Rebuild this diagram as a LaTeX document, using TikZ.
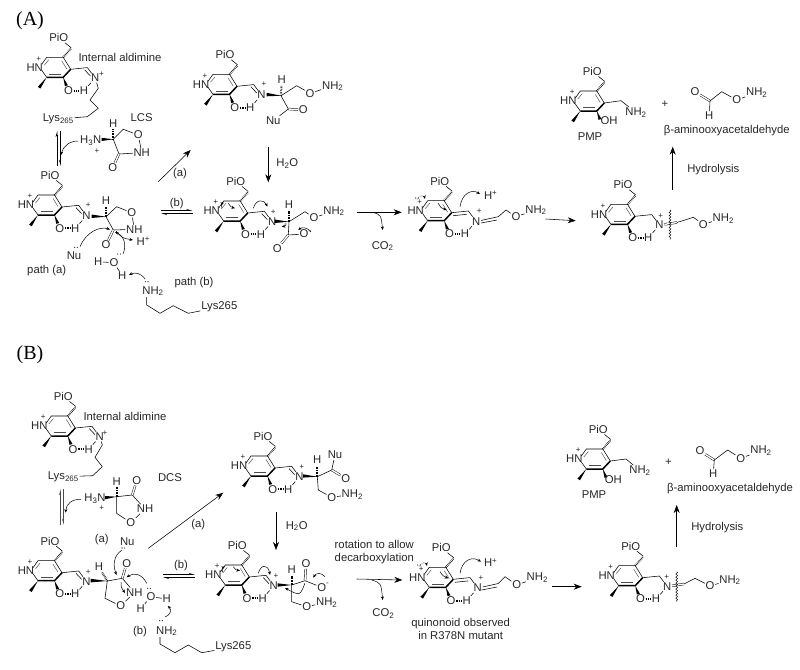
\documentclass[tikz,border=0pt]{standalone}
\usepackage{fontspec}
\setmainfont{Liberation Sans}
\newfontfamily\serifA{Liberation Serif}
\usetikzlibrary{arrows.meta,decorations.pathmorphing}
\tikzset{
  atom/.style={font=\fontsize{11.3}{12}\selectfont,inner sep=0.6pt,text=black!85},
  lbl/.style={font=\fontsize{11.3}{13}\selectfont,inner sep=0pt,text=black!85,align=center},
  chg/.style={font=\fontsize{8}{8}\selectfont,inner sep=0pt,text=black!85},
  hdr/.style={font=\serifA\fontsize{20}{20}\selectfont,inner sep=0pt},
  dbond/.style={double,double distance=1.4pt,line width=0.45pt},
  hashb/.style={line width=2pt,dash pattern=on 0.55pt off 1pt},
  hbond/.style={line width=2pt,dash pattern=on 1.3pt off 1pt},
  rxn/.style={-{Stealth[length=8pt,width=6pt]},line width=0.55pt},
  curly/.style={-{Stealth[length=3.6pt,width=3pt]},line width=0.5pt},
  harpu/.style={-{Stealth[harpoon,length=5pt,width=3pt]},line width=0.7pt},
  harpd/.style={-{Stealth[harpoon,swap,length=5pt,width=3pt]},line width=0.7pt},
  cut/.style={decorate,decoration={snake,amplitude=0.9pt,segment length=3pt},line width=0.45pt},
}
% ring with PiO, methyl and the phenol oxygen bond
\newcommand{\pyrcore}[3]{
  \begin{scope}[shift={(#1,#2)}]
    \node[atom] (#3hn) at (-21,0) {HN};
    \node[chg] at (-17,-8.5) {+};
    \node[atom] (#3pio) at (3,-29.6) {PiO};
    \draw (-14,-3) -- (-9,-10) -- (7.5,-10) -- (15,2);
    \draw (-14,3) -- (-9,10);
    \draw[line width=1.5pt,line join=round] (-9,10) -- (7.5,10) -- (15,2);
    \draw[line width=0.45pt,black!70] (-11.5,-2) -- (-7,-7.5);
    \draw[line width=0.45pt,black!70] (6,-6.5) -- (11,1.5);
    \draw[line width=0.45pt,black!70] (-6.5,6.5) -- (5.5,6.5);
    \fill (-9,10) -- (-17.9,19.5) -- (-15.3,21.3) -- cycle;
    \fill (7.5,10) -- (9.2,18.8) -- (12.2,18) -- cycle;
    \draw[hashb] (7.5,-10) -- (15.5,-19);
    \draw (15.5,-19.5) -- (#3pio);
  \end{scope}
}
% same, with the H bond and the C-N stub; #4 is an extra bond line
\newcommand{\pyrald}[4]{
  \pyrcore{#1}{#2}{#3}
  \begin{scope}[shift={(#1,#2)}]
    \node[atom] (#3o) at (12.7,23.4) {O};
    \node[atom] (#3h) at (28.3,23.4) {H};
    \node[atom] (#3n) at (39.5,10.8) {N};
    \draw[hbond] (#3o) -- (#3h);
    \draw (15,2) -- (31.7,0.3) -- (#3n);
    \draw (#3n) -- (#3h);
    #4
  \end{scope}
}
\newcommand{\imdb}{\draw (29,2.6) -- (34.6,8.6);}
\newcommand{\exdb}{\draw (16.5,5) -- (30,3.6);}
\newcommand{\lonep}[2]{\fill (#1-1.3,#2) circle (0.55pt) (#1+1.3,#2) circle (0.55pt);}
\begin{document}
\begin{tikzpicture}[x=1pt,y=-1pt,line width=0.55pt]
  \useasboundingbox (0,0) rectangle (800,669);
  \node[hdr] (hA) at (30,20.7) {(A)};
  \node[hdr] (hB) at (30,355) {(B)};

  % ---- (A) internal aldimine
  \pyrald{55.7}{67.3}{ai}{\imdb}
  \node[chg] at (101.5,74.5) {+};
  \node[lbl] (aitxt) at (120,57.3) {Internal aldimine};
  \node[atom] (ail) at (58.3,119) {Lys\textsubscript{265}};
  \draw (ain) -- (98.3,88.3) -- (90,100) -- (98.3,108.3) -- (87.3,116.7) -- (ail);

  % LCS
  \node[lbl] (lcs) at (141.7,117.3) {LCS};
  \node[atom] (ln) at (90.7,141) {H\textsubscript{3}N};
  \node[chg] at (97,151) {+};
  \node[atom] (lh) at (113.3,124) {H};
  \node[atom] (lo) at (138.3,135) {O};
  \node[atom] (lnh) at (141.7,152.7) {NH};
  \node[atom] (lco) at (112.7,167.5) {O};
  \fill (101.7,137.8) -- (113.3,139.3) -- (101.7,141) -- cycle;
  \draw[hashb] (113.3,139.3) -- (113.3,129);
  \draw (113.3,139.3) -- (123.3,129.3) -- (lo);
  \draw (lo) -- (lnh);
  \draw (113.3,139.3) -- (119,154) -- (lnh);
  \draw[dbond] (119,154) -- (lco);

  \coordinate (ea1) at (57,166);
  \coordinate (ea2) at (57,131);
  \coordinate (ea3) at (60.5,131);
  \coordinate (ea4) at (60.5,166);
  \draw[harpu] (ea1) -- (ea2);
  \draw[harpd] (ea3) -- (ea4);
  \draw[curly] (78,141) .. controls (70,141) and (63,146) .. (61,155);

  % ---- (A) attack on the ring
  \pyrald{47}{205}{ax}{\imdb}
  \node[chg] at (88.3,205) {+};
  \node[atom] (axhh) at (106,200.7) {H};
  \node[atom] (axo) at (131.7,212.7) {O};
  \node[atom] (axnh) at (134.3,229.3) {NH};
  \node[atom] (axco) at (106,245) {O};
  \fill (91.5,214.5) -- (106,216.7) -- (91.5,218) -- cycle;
  \draw[hashb] (106,216.7) -- (106,206);
  \draw (106,216.7) -- (116.7,206.7) -- (axo);
  \draw (axo) -- (axnh);
  \draw (106,216.7) -- (113.3,230) -- (axnh);
  \draw[dbond] (113.3,230) -- (axco);
  \node[atom] (axhp) at (143.3,241) {H\textsuperscript{+}};
  \node[atom] (axnu) at (74,256) {Nu};
  \lonep{76}{247.3}
  \draw[curly] (80,246.7) .. controls (86,232) and (100,226) .. (110,229.5);
  \draw[curly] (116,231) .. controls (122,238) .. (133,240);
  \draw[curly] (123,254) .. controls (127,245) and (124,236) .. (115,232);
  \node[atom] (wh1) at (98.3,261.7) {H};
  \node[atom] (wo) at (114,262.7) {O};
  \node[atom] (wh2) at (122.3,276) {H};
  \draw (wh1) -- (wo);
  \draw (wo) -- (wh2);
  \lonep{119}{254}
  \node[lbl] (pa) at (46.7,270.7) {path (a)};
  \node[lbl] (pb) at (194,282.3) {path (b)};
  \node[atom] (lysn) at (153,291) {NH\textsubscript{2}};
  \lonep{146.7}{281.7}
  \draw[curly] (145,279) .. controls (141,273) and (135,272) .. (129,275);
  \node[atom] (lysa) at (219.3,307) {Lys265};
  \draw (146.7,297) -- (146.7,305) -- (160,313.3) -- (173.3,305.7) -- (188.3,313.3) -- (lysa);

  \coordinate (ar1) at (158.3,181.7);
  \coordinate (ar2) at (190.7,150);
  \draw[rxn] (ar1) -- (ar2);
  \node[lbl] (la) at (180,174) {(a)};
  \node[lbl] (lb) at (176.7,203.3) {(b)};
  \coordinate (eb1) at (161,210.5);
  \coordinate (eb2) at (192.5,210.5);
  \coordinate (eb3) at (192.5,213.5);
  \coordinate (eb4) at (161,213.5);
  \draw[harpu] (eb1) -- (eb2);
  \draw[harpu] (eb3) -- (eb4);

  % ---- (A) Nu adduct
  \pyrald{222}{84.3}{an}{\imdb}
  \node[chg] at (264,84.3) {+};
  \node[atom] (anhh) at (281.7,80) {H};
  \node[atom] (ano) at (310,93.3) {O};
  \node[atom] (ann) at (332.7,86) {NH\textsubscript{2}};
  \node[atom] (anco) at (303.3,110) {O};
  \node[atom] (annu) at (273.3,120.7) {Nu};
  \fill (266.5,92.8) -- (281,95.7) -- (266.5,96.3) -- cycle;
  \draw[hashb] (281,95.7) -- (281.5,85);
  \draw (281,95.7) -- (296.7,85.7) -- (ano);
  \draw (ano) -- (ann);
  \draw (281,95.7) -- (288.3,109);
  \draw[dbond] (288.3,109) -- (anco);
  \draw (288.3,109) -- (annu);
  \coordinate (ah1) at (268.3,146.7);
  \coordinate (ah2) at (268.3,182.3);
  \draw[rxn] (ah1) -- (ah2);
  \node[atom] (ah2o) at (287.3,163.3) {H\textsubscript{2}O};

  % ---- (A) carboxylate
  \pyrald{232.7}{211}{ac}{\imdb}
  \node[chg] at (273.3,211.7) {+};
  \node[atom] (achh) at (289,205) {H};
  \node[atom] (aco) at (314,217.7) {O};
  \node[atom] (acn) at (334,211) {NH\textsubscript{2}};
  \node[atom] (aco1) at (277.3,248.3) {O};
  \node[atom] (aco2) at (304,234) {O};
  \node[chg] at (310,232) {-};
  \fill (274.5,219.5) -- (289,221.7) -- (274.5,223) -- cycle;
  \draw[hashb] (289,221.7) -- (289,210.5);
  \draw (289,221.7) -- (305,211.7) -- (aco);
  \draw (aco) -- (acn);
  \draw (289,221.7) -- (288.3,235) -- (aco2);
  \draw[dbond] (288.3,235) -- (aco1);
  \draw[curly] (222,208) .. controls (221,204) .. (224,202.5);
  \draw[curly] (228.3,203.3) .. controls (231,207) .. (235,208.3);
  \draw[curly] (253.3,208.3) .. controls (256,199) and (264,199) .. (267.3,206.7);
  \draw[curly] (311,232) .. controls (307,227) and (302,227) .. (298.3,230);
  \draw[curly] (286,223) .. controls (286,226) .. (281.7,226.7);
  \coordinate (ad1) at (356.7,212.3);
  \coordinate (ad2) at (401.7,212.3);
  \draw[rxn] (ad1) -- (ad2);
  \node[atom] (aco2g) at (382.7,246) {CO\textsubscript{2}};
  \coordinate (ag1) at (373,212.3);
  \coordinate (ag2) at (382.7,230);
  \draw[curly] (ag1) .. controls (381,215) .. (ag2);

  % ---- (A) quinonoid
  \pyrald{436.7}{210.7}{aq}{\exdb}
  \node[chg] at (479.3,210.7) {+};
  \node[atom] (aqhp) at (490.7,195.7) {H\textsuperscript{+}};
  \node[atom] (aqo) at (516,216.7) {O};
  \node[atom] (aqnn) at (536,210) {NH\textsubscript{2}};
  \draw (aqn) -- (498.3,216.7) -- (506,210) -- (aqo);
  \draw (481,223) -- (497,220);
  \draw (aqo) -- (aqnn);
  \draw[curly] (460,206.7) .. controls (462,193) and (472,189) .. (480,194);
  \draw[curly,densely dotted] (417,200) .. controls (419,195) and (424,195) .. (425,199);
  \lonep{417}{198}
  \draw[curly] (438.3,203.3) .. controls (441,208) .. (446.7,210);
  \coordinate (aq1) at (545.7,219);
  \coordinate (aq2) at (575.7,220.7);
  \draw[rxn] (aq1) -- (aq2);

  % ---- (A) ketimine
  \pyrald{620}{214.3}{ak}{}
  \node[chg] at (660.7,215.7) {+};
  \node[atom] (ako) at (703.3,224.3) {O};
  \node[atom] (aknn) at (723.3,218.3) {NH\textsubscript{2}};
  \draw[dbond] (akn) -- (677,222.5);
  \draw (677,222.5) -- (693.3,217.3) -- (ako);
  \draw (ako) -- (aknn);
  \coordinate (ac1) at (670,210);
  \coordinate (ac2) at (670,240);
  \draw[cut] (ac1) -- (ac2);
  \coordinate (ay1) at (672.7,190);
  \coordinate (ay2) at (672.7,146.7);
  \draw[rxn] (ay1) -- (ay2);
  \node[lbl] (ayt) at (713.3,169.3) {Hydrolysis};

  % ---- (A) products
  \pyrcore{589.3}{101}{ap}
  \node[atom] (apoh) at (609,121) {OH};
  \node[atom] (apn) at (636,112.7) {NH\textsubscript{2}};
  \node[lbl] (apt) at (590,136.7) {PMP};
  \draw (604.3,103) -- (621,100.7) -- (apn);
  \node[lbl] (apl) at (665,104.3) {+};
  \node[atom] (aao) at (695,91.7) {O};
  \node[atom] (aah) at (709.3,116) {H};
  \node[atom] (aaoo) at (736.7,100) {O};
  \node[atom] (aan) at (756.7,92.7) {NH\textsubscript{2}};
  \draw[dbond] (aao) -- (710,101);
  \draw (aah) -- (710,101) -- (721.7,91.7) -- (aaoo);
  \draw (aaoo) -- (aan);
  \node[lbl] (aat) at (726.7,130.7) {β-aminooxyacetaldehyde};

  % ---- (B) internal aldimine
  \pyrald{60.3}{426}{bi}{\imdb}
  \node[chg] at (105,433) {+};
  \node[lbl] (bitxt) at (125,416) {Internal aldimine};
  \node[atom] (bil) at (63.3,476.7) {Lys\textsubscript{265}};
  \draw (bin) -- (102.3,445) -- (95,457.3) -- (102.3,466.7) -- (92.7,475.7) -- (bil);

  % DCS
  \node[lbl] (dcs) at (170,477.7) {DCS};
  \node[atom] (dn) at (95,498.3) {H\textsubscript{3}N};
  \node[chg] at (101.7,508.3) {+};
  \node[atom] (dh) at (116.7,481.7) {H};
  \node[atom] (dco) at (136.7,480.7) {O};
  \node[atom] (dnh) at (145,509) {NH};
  \node[atom] (do) at (130.7,522.7) {O};
  \fill (105,496) -- (116.7,496.7) -- (105,499.3) -- cycle;
  \draw[hashb] (116.7,496.7) -- (116.7,487);
  \draw (116.7,496.7) -- (132.3,495) -- (dnh);
  \draw[dbond] (132.3,495) -- (dco);
  \draw (116.7,496.7) -- (116.7,513.3) -- (do);
  \draw (do) -- (dnh);
  \coordinate (eb5) at (60.5,525);
  \coordinate (eb6) at (60.5,489);
  \coordinate (eb7) at (63.5,489);
  \coordinate (eb8) at (63.5,525);
  \draw[harpu,line width=1pt,black!70] (eb5) -- (eb6);
  \draw[harpd,line width=1pt,black!70] (eb7) -- (eb8);
  \draw[curly] (81,499.3) .. controls (72,499) and (66,504) .. (65.7,512.7);

  % ---- (B) attack on the ring
  \pyrald{47}{570.7}{bx}{\imdb}
  \node[chg] at (88.3,571.7) {+};
  \node[atom] (bxhh) at (99,566.7) {H};
  \node[atom] (bxco) at (126.7,563.3) {O};
  \node[atom] (bxnh) at (134.3,592.3) {NH};
  \node[atom] (bxo) at (120.7,606) {O};
  \fill (90.5,578.8) -- (107.3,581) -- (90.5,582.4) -- cycle;
  \draw[hashb] (107.3,581) -- (102,572);
  \draw (107.3,581) -- (122.3,578.3) -- (bxnh);
  \draw[dbond] (122.3,578.3) -- (bxco);
  \draw (107.3,581) -- (105,598.3) -- (bxo);
  \draw (bxo) -- (bxnh);
  \node[lbl] (bla) at (101.7,539.3) {(a)};
  \node[atom] (bnu) at (127.3,542) {Nu};
  \lonep{123.3}{548}
  \draw[curly] (122,550) .. controls (113,556) and (113,566) .. (116.7,575);
  \draw[curly] (146.7,583.3) .. controls (142,574) and (134,572) .. (126.7,577.3);
  \draw[curly] (121,582) .. controls (121,587) .. (125,593);
  \node[atom] (bwo) at (151,596.7) {O};
  \node[atom] (bwh1) at (166.7,599) {H};
  \node[atom] (bwh2) at (140.7,608.7) {H};
  \draw (bwo) -- (bwh1);
  \draw (bwo) -- (bwh2);
  \lonep{149}{588.3}
  \node[lbl] (blb) at (140,631.7) {(b)};
  \node[atom] (blysn) at (166.7,631) {NH\textsubscript{2}};
  \lonep{161}{620.7}
  \draw[curly] (165,617) .. controls (172,614) and (171,609) .. (167.7,606);
  \node[atom] (blys) at (233.3,647) {Lys265};
  \draw (160,637) -- (160,644) -- (175,652.7) -- (188.3,645) -- (201.7,652.7) -- (blys);

  \coordinate (br1) at (148.3,548.3);
  \coordinate (br2) at (223.3,492.7);
  \draw[rxn] (br1) -- (br2);
  \node[lbl] (bra) at (198.3,525) {(a)};
  \node[lbl] (brb) at (181,565.7) {(b)};
  \coordinate (bb1) at (163,574.5);
  \coordinate (bb2) at (195,574.5);
  \coordinate (bb3) at (195,577.5);
  \coordinate (bb4) at (163,577.5);
  \draw[harpu] (bb1) -- (bb2);
  \draw[harpu] (bb3) -- (bb4);

  % ---- (B) Nu adduct
  \pyrald{260}{466}{bn}{\imdb}
  \node[chg] at (301.7,466.7) {+};
  \node[atom] (bnhh) at (317.3,460) {H};
  \node[atom] (bnnu) at (335,455) {Nu};
  \node[atom] (bnco) at (345.7,478.3) {O};
  \node[atom] (bno) at (331.7,497.3) {O};
  \node[atom] (bnn) at (352.3,494.3) {NH\textsubscript{2}};
  \fill (303,474.3) -- (317.3,476.7) -- (303,477.6) -- cycle;
  \draw[hashb] (317.3,476.7) -- (317.3,466);
  \draw (317.3,476.7) -- (331.7,470) -- (bnnu);
  \draw[dbond] (331.7,470) -- (bnco);
  \draw (317.3,476.7) -- (318.3,490) -- (bno);
  \draw (bno) -- (bnn);
  \coordinate (bh1) at (276,511.7);
  \coordinate (bh2) at (276,550);
  \draw[rxn] (bh1) -- (bh2);
  \node[atom] (bh2o) at (296.7,526) {H\textsubscript{2}O};

  % ---- (B) carboxylate
  \pyrald{234.3}{575}{bc}{\imdb}
  \node[chg] at (276,575.7) {+};
  \node[atom] (bchh) at (291.7,570) {H};
  \node[atom] (bco1) at (306,564) {O};
  \node[atom] (bco2) at (321.7,587.3) {O};
  \node[chg] at (327.5,584) {-};
  \node[atom] (bco) at (306.7,606.7) {O};
  \node[atom] (bcn) at (326.7,602.3) {NH\textsubscript{2}};
  \fill (277.5,583.3) -- (291.7,585) -- (277.5,586.7) -- cycle;
  \draw[hashb] (291.7,585) -- (291.7,575.5);
  \draw (291.7,585) -- (305,580.7) -- (bco2);
  \draw[dbond] (305,580.7) -- (bco1);
  \draw (291.7,585) -- (291.7,601.7) -- (bco);
  \draw (bco) -- (bcn);
  \draw[curly] (233.3,566.7) .. controls (236,570) .. (240,570.7);
  \draw[curly] (222.5,572) .. controls (222,568) .. (225,566.5);
  \draw[curly] (258.3,573.3) .. controls (261,564) and (268,564) .. (270,575);
  \draw[curly] (305,583) .. controls (300,596) .. (285,588);
  \draw[curly] (325,576.7) .. controls (321,572) and (316,573) .. (313.3,577.7);
  \coordinate (bd1) at (356.7,579);
  \coordinate (bd2) at (402.3,580);
  \draw[rxn] (bd1) -- (bd2);
  \node[lbl] (brot) at (374.3,552) {rotation to allow\\decarboxylation};
  \node[atom] (bco2g) at (383.3,613.3) {CO\textsubscript{2}};
  \coordinate (bg1) at (371.7,580);
  \coordinate (bg2) at (382.7,600);
  \draw[curly] (bg1) .. controls (381,583) .. (bg2);

  % ---- (B) quinonoid
  \pyrald{438.3}{577.3}{bq}{\exdb}
  \node[chg] at (481,578.3) {+};
  \node[atom] (bqhp) at (490.7,562.7) {H\textsuperscript{+}};
  \node[atom] (bqo) at (516.7,585) {O};
  \node[atom] (bqnn) at (537.3,577.7) {NH\textsubscript{2}};
  \draw (bqn) -- (498.3,583.5) -- (505,576.7) -- (bqo);
  \draw (481.5,590) -- (497,587);
  \draw (bqo) -- (bqnn);
  \draw[curly] (460,573.3) .. controls (462,560) and (472,556) .. (481,561.7);
  \draw[curly,densely dotted] (419,567) .. controls (421,562) and (426,562) .. (427,566);
  \lonep{419}{565}
  \draw[curly] (440,571.7) .. controls (443,576) .. (448.3,578.3);
  \node[lbl] (bqt) at (460.7,629) {quinonoid observed\\in R378N mutant};
  \coordinate (bq1) at (552.3,586.7);
  \coordinate (bq2) at (581.7,586.7);
  \draw[rxn] (bq1) -- (bq2);

  % ---- (B) ketimine
  \pyrald{627.7}{575.7}{bk}{}
  \node[chg] at (666.7,576.7) {+};
  \node[atom] (bko) at (710,586) {O};
  \node[atom] (bknn) at (730,580) {NH\textsubscript{2}};
  \draw[dbond] (bkn) -- (684,584);
  \draw (684,584) -- (695,578.3) -- (bko);
  \draw (bko) -- (bknn);
  \coordinate (bt1) at (676.7,571.7);
  \coordinate (bt2) at (676.7,601.7);
  \draw[cut] (bt1) -- (bt2);
  \coordinate (by1) at (676.7,547.3);
  \coordinate (by2) at (676.7,505);
  \draw[rxn] (by1) -- (by2);
  \node[lbl] (byt) at (717.3,527.7) {Hydrolysis};

  % ---- (B) products
  \pyrcore{595.3}{459}{bp}
  \node[atom] (bpoh) at (613.3,479.3) {OH};
  \node[atom] (bpn) at (640,470.7) {NH\textsubscript{2}};
  \node[lbl] (bpt) at (594,495) {PMP};
  \draw (610.3,461) -- (626,459) -- (bpn);
  \node[lbl] (bpl) at (668.3,462.7) {+};
  \node[atom] (bao) at (700,451) {O};
  \node[atom] (bah) at (713.3,473.3) {H};
  \node[atom] (baoo) at (740.7,458.3) {O};
  \node[atom] (ban) at (761,450.7) {NH\textsubscript{2}};
  \draw[dbond] (bao) -- (714.3,460);
  \draw (bah) -- (714.3,460) -- (727.7,450) -- (baoo);
  \draw (baoo) -- (ban);
  \node[lbl] (bat) at (730,489) {β-aminooxyacetaldehyde};
\end{tikzpicture}
\end{document}
